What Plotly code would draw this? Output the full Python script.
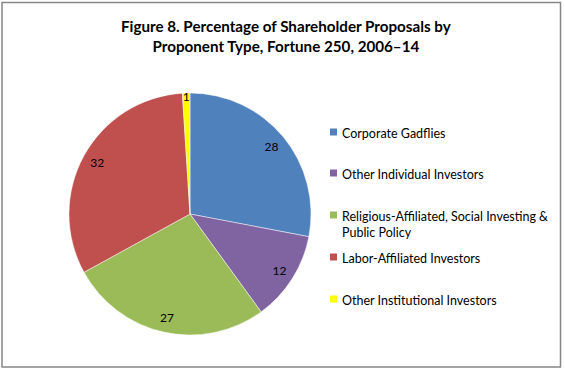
import plotly.graph_objects as go

categories = ["Corporate Gadflies", "Other Individual Investors",
              "Religious-Affiliated, Social Investing &<br>Public Policy",
              "Labor-Affiliated Investors", "Other Institutional Investors"]
values = [28, 12, 27, 32, 1]
colors = ["#4F81BD", "#8064A2", "#9BBB59", "#C0504D", "#FFFF00"]
title_text = "Figure 8. Percentage of Shareholder Proposals by<br>Proponent Type, Fortune 250, 2006–14"

W, H = 565, 370
FONT = "Lato, 'Open Sans', sans-serif"

# pie geometry (pixels)
cx, cy, R = 190, 214, 121
dom_x = [(cx - R) / W, (cx + R) / W]
dom_y = [1 - (cy + R) / H, 1 - (cy - R) / H]

fig = go.Figure()
fig.add_trace(go.Pie(
    labels=categories, values=values, sort=False, direction="clockwise",
    rotation=0, marker=dict(colors=colors, line=dict(color="rgba(255,255,255,0.6)", width=0.8)),
    textinfo="none", hoverinfo="label+value", showlegend=False,
    domain=dict(x=dom_x, y=dom_y),
))
# transparent ring used only to place the data labels near the rim
fig.add_trace(go.Pie(
    labels=categories, values=values, sort=False, direction="clockwise",
    rotation=0, hole=0.75,
    marker=dict(colors=["rgba(0,0,0,0)"] * len(values), line=dict(width=0)),
    text=[str(v) for v in values], textinfo="text", textposition="inside",
    insidetextorientation="horizontal",
    textfont=dict(family=FONT, size=12, color="black"),
    hoverinfo="skip", showlegend=False,
    domain=dict(x=dom_x, y=dom_y),
))

# legend built from categories/colors
leg_x_sq = 330
leg_x_txt = 340
leg_y = [132, 173, 215, 257, 299]
shapes = []
annotations = []
for cat, col, yy in zip(categories, colors, leg_y):
    shapes.append(dict(type="rect", xref="paper", yref="paper",
                       x0=leg_x_sq / W, x1=(leg_x_sq + 7) / W,
                       y0=1 - (yy + 3.5) / H, y1=1 - (yy - 3.5) / H,
                       fillcolor=col, line=dict(width=0)))
    annotations.append(dict(text=cat, xref="paper", yref="paper",
                            x=leg_x_txt / W, y=1 - (yy - 8.5) / H,
                            xanchor="left", yanchor="top", align="left",
                            showarrow=False,
                            font=dict(family=FONT, size=12.5, color="black")))

# outer frame
shapes.append(dict(type="rect", xref="paper", yref="paper",
                   x0=2 / W, x1=560.5 / W, y0=1 - 367 / H, y1=1 - 2.5 / H,
                   line=dict(color="#868686", width=1.5), fillcolor="rgba(0,0,0,0)"))

annotations.append(dict(text="<b>" + title_text + "</b>", xref="paper", yref="paper",
                        x=286 / W, y=1 - 15 / H, xanchor="center", yanchor="top",
                        showarrow=False, align="center",
                        font=dict(family=FONT, size=15.2, color="black")))

fig.update_layout(
    width=W, height=H, margin=dict(l=0, r=0, t=0, b=0),
    paper_bgcolor="white", plot_bgcolor="white",
    shapes=shapes, annotations=annotations,
    uniformtext=dict(minsize=12, mode="show"),
)
fig.write_html("out.html", config={"displayModeBar": False},
               post_script="document.body.style.margin='0';")
